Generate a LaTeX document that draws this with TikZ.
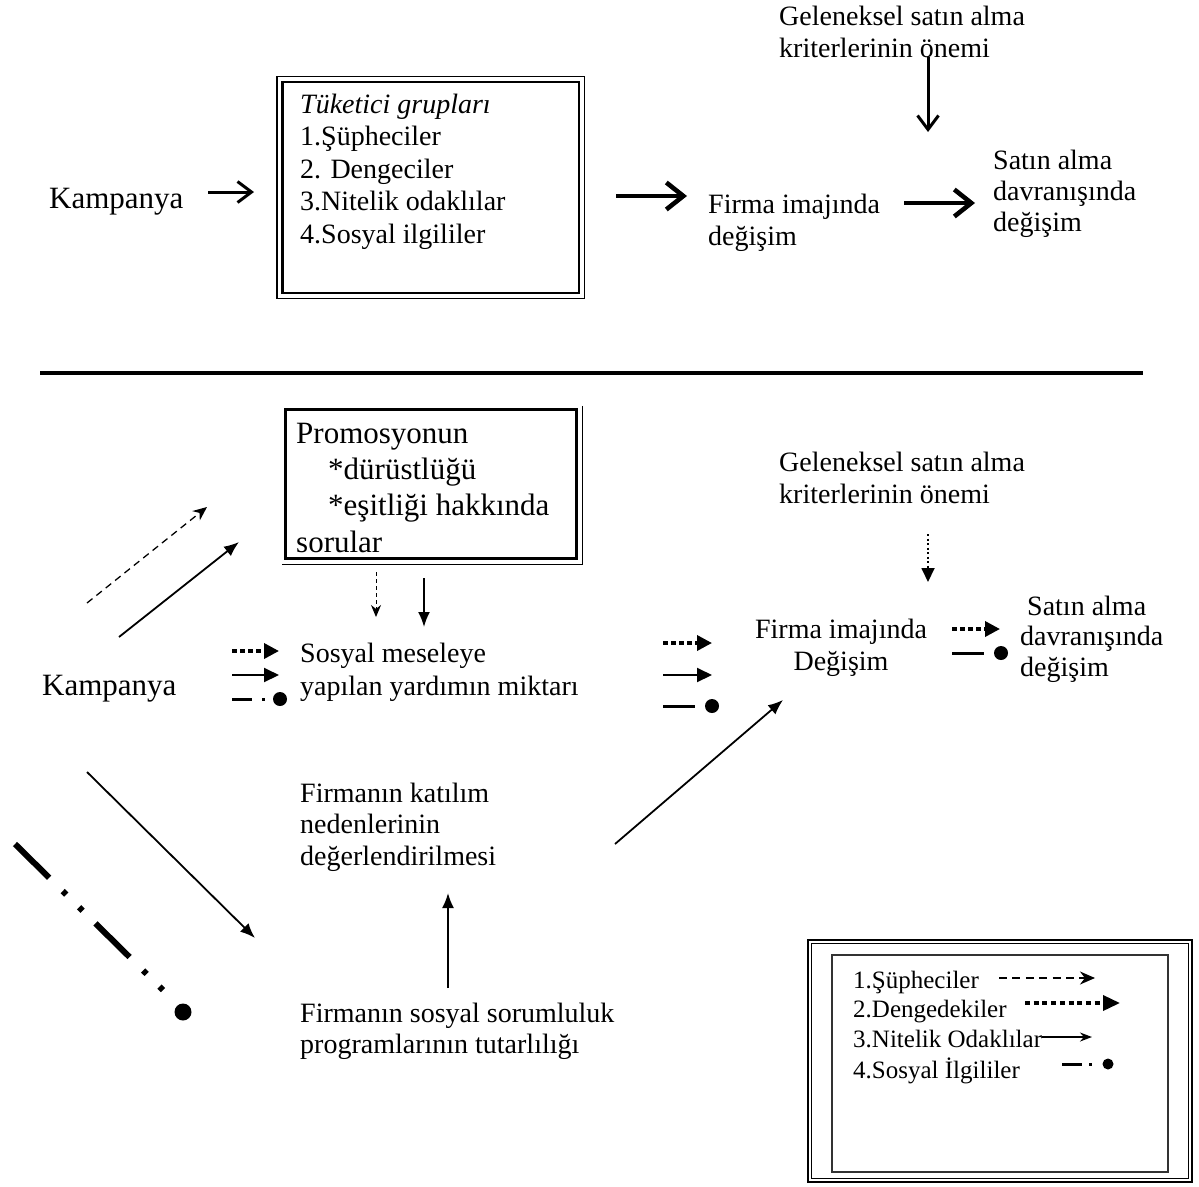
\documentclass[tikz,border=0pt]{standalone}
\usepackage{fontspec}
\setmainfont{Liberation Serif}
\usetikzlibrary{arrows.meta}
\begin{document}
\begin{tikzpicture}[x=1pt,y=-1pt,
  % multi-line nodes are placed by the baseline of their last line
  txt/.style={inner sep=0pt, anchor=base west, align=left, font=\fontsize{28}{32}\selectfont},
  bigtxt/.style={txt, font=\fontsize{31}{36}\selectfont},
  legtxt/.style={txt, font=\fontsize{25}{30}\selectfont},
  barb/.style={line width=3pt, line join=miter, -{Straight Barb[length=14pt,width=21pt]}},
  heavybarb/.style={line width=4.6pt, line join=miter, -{Straight Barb[length=17pt,width=27pt]}},
  solidarr/.style={line width=1.8pt, -{Latex[length=15pt,width=12pt]}},
  dasharr/.style={line width=1.3pt, dash pattern=on 7pt off 5pt, -{Stealth[length=14pt,width=12pt]}},
  thindash/.style={line width=1pt, dash pattern=on 4pt off 3pt, -{Stealth[length=12pt,width=10pt]}},
  thindot/.style={line width=1.8pt, dash pattern=on 2pt off 2.5pt, -{Triangle[length=14pt,width=13pt]}},
  dotmini/.style={line width=3.5pt, dash pattern=on 5pt off 3pt, -{Triangle[length=15pt,width=15pt]}},
  solidmini/.style={line width=2pt, -{Triangle[length=15pt,width=14pt]}},
  dashball/.pic={
    \draw[line width=3pt] (0,0) -- (20,0);
    \fill (29.5,-1.5) rectangle (32.5,1.5);
    \fill (48,0) circle (7);
  },
  bar/.pic={
    \draw[line width=3pt] (0,0) -- (32,0);
    \fill (49,0) circle (7);
  }
]
\useasboundingbox (0,0) rectangle (1199,1186);

% ---------------- upper model ----------------
\node[bigtxt] (kampA) at (49,208) {Kampanya};

\node[draw, line width=2.7pt, minimum width=296.5pt, minimum height=211pt, inner sep=0pt]
  (grp) at (430.75,187.5) {};
\draw[line width=1.3pt] ([shift={(-4.3,-4.3)}]grp.north west) rectangle ([shift={(4.3,4.3)}]grp.south east);
\node[txt, font=\fontsize{28}{32.5}\selectfont] (grptext) at (300,243)
  {\textit{Tüketici grupları}\\1.Şüpheciler\\2. Dengeciler\\3.Nitelik odaklılar\\4.Sosyal ilgililer};

\node[txt] (firmaA) at (708,245) {Firma imajında\\değişim};
\node[txt, font=\fontsize{28}{31}\selectfont] (satinA) at (993,231) {Satın alma\\davranışında\\değişim};
\node[txt] (gelA) at (779,57) {Geleneksel satın alma\\kriterlerinin önemi};

\coordinate (a1s) at (208,192);  \coordinate (a1e) at (254,192);
\coordinate (a2s) at (616,196);  \coordinate (a2e) at (687,196);
\coordinate (a3s) at (904,203);  \coordinate (a3e) at (975,203);
\coordinate (a4s) at (928,57);   \coordinate (a4e) at (928,132);
\draw[barb] (a1s) -- (a1e);
\draw[heavybarb] (a2s) -- (a2e);
\draw[heavybarb] (a3s) -- (a3e);
\draw[barb] (a4s) -- (a4e);

% separating rule
\coordinate (ruleL) at (40,373);
\coordinate (ruleR) at (1143,373);
\draw[line width=3.3pt] (ruleL) -- (ruleR);

% ---------------- lower model ----------------
\node[draw, line width=3.2pt, minimum width=291pt, minimum height=149pt, inner sep=0pt]
  (promo) at (431,484) {};
\draw[line width=1.2pt] ([shift={(4.2,-2)}]promo.north east) -- ([shift={(4.2,4.2)}]promo.south east)
  -- ([shift={(-1.6,4.2)}]promo.south west);
\node[bigtxt, font=\fontsize{31}{36.3}\selectfont] (promotext) at (296,552)
  {Promosyonun\\\hspace*{32pt}*dürüstlüğü\\\hspace*{32pt}*eşitliği hakkında\\sorular};

\node[bigtxt] (kampB) at (42,695) {Kampanya};
\node[txt, font=\fontsize{28}{33}\selectfont] (sosyal) at (300,695) {Sosyal meseleye\\yapılan yardımın miktarı};
\node[txt] (gelB) at (779,503) {Geleneksel satın alma\\kriterlerinin önemi};
\node[txt, anchor=base, align=center] (firmaB) at (841,670) {Firma imajında\\Değişim};
\node[txt, font=\fontsize{28}{30.5}\selectfont] (satinB) at (1020,676) {\hspace*{7pt}Satın alma\\davranışında\\değişim};
\node[txt, font=\fontsize{28}{31.5}\selectfont] (katilim) at (300,865) {Firmanın katılım\\nedenlerinin\\değerlendirilmesi};
\node[txt, font=\fontsize{28}{31}\selectfont] (tutarli) at (300,1053) {Firmanın sosyal sorumluluk\\programlarının tutarlılığı};

% campaign to questions about the promotion
\coordinate (b1s) at (87,603);   \coordinate (b1e) at (207,507);
\coordinate (b2s) at (119,637);  \coordinate (b2e) at (239,542);
\draw[dasharr] (b1s) -- (b1e);
\draw[solidarr] (b2s) -- (b2e);

% promotion questions to amount of help
\coordinate (c1s) at (376,572);  \coordinate (c1e) at (376,617);
\coordinate (c2s) at (424,578);  \coordinate (c2e) at (424,627);
\draw[thindash] (c1s) -- (c1e);
\draw[solidarr] (c2s) -- (c2e);

% group markers before the amount of help
\coordinate (m1s) at (232,651);  \coordinate (m1e) at (279,651);
\coordinate (m2s) at (232,675);  \coordinate (m2e) at (279,675);
\draw[dotmini] (m1s) -- (m1e);
\draw[solidmini] (m2s) -- (m2e);
\pic at (232,699) {dashball};

% group markers before the image change
\coordinate (n1s) at (663,643);  \coordinate (n1e) at (712,643);
\coordinate (n2s) at (663,675);  \coordinate (n2e) at (712,675);
\draw[dotmini] (n1s) -- (n1e);
\draw[solidmini] (n2s) -- (n2e);
\pic at (663,706) {bar};

% group markers before the change in purchasing behaviour
\coordinate (p1s) at (952,629);  \coordinate (p1e) at (1000,629);
\draw[dotmini] (p1s) -- (p1e);
\pic at (952,653) {bar};

% traditional criteria to image change
\coordinate (d1s) at (928,534);  \coordinate (d1e) at (928,582);
\draw[thindot] (d1s) -- (d1e);

% campaign to motives, consistency to motives, motives to image change
\coordinate (e1s) at (87,772);   \coordinate (e1e) at (255,938);
\coordinate (e2s) at (448,988);  \coordinate (e2e) at (448,893);
\coordinate (e3s) at (615,844);  \coordinate (e3e) at (783,700);
\draw[solidarr] (e1s) -- (e1e);
\draw[solidarr] (e2s) -- (e2e);
\draw[solidarr] (e3s) -- (e3e);

% social-interest path, long dash-dot line ending in a dot
\coordinate (f1s) at (15,844);   \coordinate (f1e) at (164,991);
\draw[line width=6pt, dash pattern=on 48pt off 19pt on 5pt off 18pt on 5pt off 18pt] (f1s) -- (f1e);
\fill (183,1012) circle (8.5);

% ---------------- legend ----------------
\node[draw, line width=2pt, minimum width=384pt, minimum height=242pt, inner sep=0pt]
  (legframe) at (1000,1061) {};
\draw[line width=1.2pt] ([shift={(4.5,4.5)}]legframe.north west) rectangle ([shift={(-4.5,-4.5)}]legframe.south east);
\draw[black!80, line width=2pt] ([shift={(25,16)}]legframe.north west) rectangle ([shift={(-25,-11)}]legframe.south east);

\node[legtxt] (l1) at (853,988) {1.Şüpheciler};
\node[legtxt] (l2) at (853,1017) {2.Dengedekiler};
\node[legtxt] (l3) at (853,1047) {3.Nitelik Odaklılar};
\node[legtxt] (l4) at (853,1078) {4.Sosyal İlgililer};

\coordinate (g1s) at (999,978);   \coordinate (g1e) at (1095,978);
\coordinate (g2s) at (1025,1003); \coordinate (g2e) at (1120,1003);
\coordinate (g3e) at (1092,1037);
\draw[line width=1.5pt, dash pattern=on 8pt off 5.4pt, -{Stealth[length=15pt,width=13pt]}] (g1s) -- (g1e);
\draw[line width=3.5pt, dash pattern=on 5pt off 3.7pt, -{Triangle[length=17pt,width=15pt]}] (g2s) -- (g2e);
\draw[line width=1.5pt, -{Stealth[length=12pt,width=9pt]}] (l3.base east) ++(0,-10) coordinate (g3s) -- (g3e);
\draw[line width=3pt] (1062,1064) -- (1082,1064);
\fill (1088.5,1062.5) rectangle (1091.5,1065.5);
\fill (1108,1064) circle (5.5);
\end{tikzpicture}
\end{document}
